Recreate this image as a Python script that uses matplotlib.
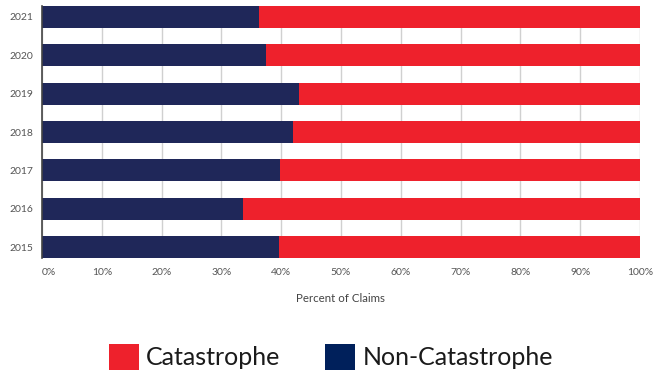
import matplotlib
matplotlib.use("Agg")
import matplotlib.pyplot as plt
from matplotlib.patches import Patch
from matplotlib.ticker import FuncFormatter

plt.rcParams['font.family'] = ['Lato', 'DejaVu Sans']

years = ["2015", "2016", "2017", "2018", "2019", "2020", "2021"]
non_cat = [39.7, 33.6, 39.8, 41.9, 43.0, 37.5, 36.3]
cat = [100 - v for v in non_cat]

navy = "#1f2759"
red = "#ee212c"
legend_navy = "#00205b"

fig = plt.figure(figsize=(6.68, 3.74), dpi=100)
ax = fig.add_axes([42 / 668, 1 - 258 / 374, 598 / 668, 252 / 374])

pos = list(range(len(years)))
ax.barh(pos, non_cat, height=0.57, color=navy, zorder=2)
ax.barh(pos, cat, left=non_cat, height=0.57, color=red, zorder=2)

ax.set_xlim(0, 100)
ax.set_ylim(-0.285, len(years) - 1 + 0.285)
ax.set_yticks(pos)
ax.set_yticklabels(years)
ax.set_xticks(range(0, 101, 10))
ax.xaxis.set_major_formatter(FuncFormatter(lambda v, _: f"{int(v)}%"))
ax.tick_params(axis='both', length=0, labelsize=7.5, labelcolor="#555555")
ax.tick_params(axis='x', pad=7)
ax.tick_params(axis='y', pad=6)
ax.get_xticklabels()[0].set_horizontalalignment("left")
ax.grid(axis='x', color="#d0d0d0", linewidth=1, zorder=0)
for s in ["top", "right", "bottom"]:
    ax.spines[s].set_visible(False)
ax.spines["left"].set_color("#444444")
ax.spines["left"].set_linewidth(1.2)
ax.spines["left"].set_zorder(3)

ax.set_xlabel("Percent of Claims", fontsize=8.3, color="#444444", labelpad=12)

handles = [Patch(facecolor=red, label="Catastrophe"),
           Patch(facecolor=legend_navy, label="Non-Catastrophe")]
fig.legend(handles=handles, loc="center", bbox_to_anchor=(331 / 668, 1 - 357 / 374),
           ncol=2, frameon=False, fontsize=18, handlelength=1.2, handleheight=1.2,
           handletextpad=0.3, columnspacing=1.8, borderpad=0, labelcolor="#1a1a1a")

fig.savefig("out.png", dpi=100)
